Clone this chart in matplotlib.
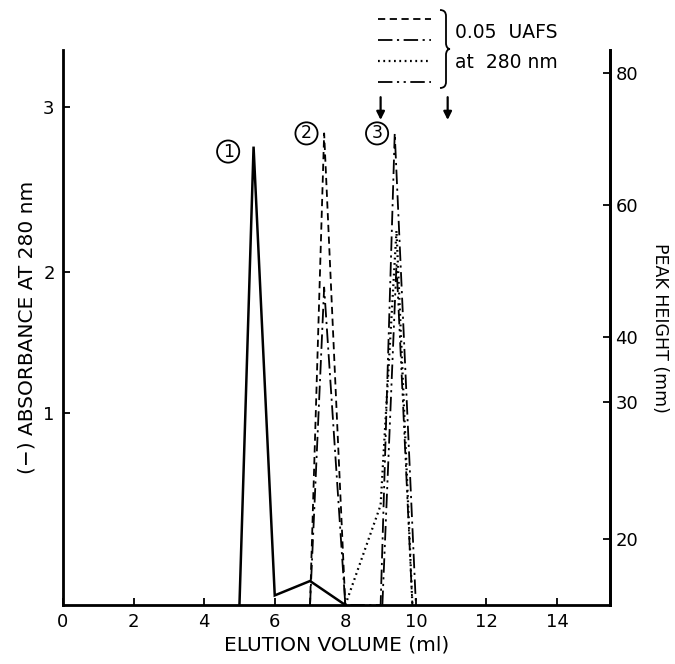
import numpy as np
import matplotlib
matplotlib.use("Agg")
import matplotlib.pyplot as plt
from matplotlib.lines import Line2D
from matplotlib.path import Path
from matplotlib.patches import PathPatch

# elution profiles, absorbance units
vol_solid = [5.0, 5.4, 6.0, 7.0, 8.0]
abs_solid = [0.0, 2.76, 0.05, 0.125, 0.0]
vol_dash = [7.0, 7.4, 8.0]
abs_dash = [0.0, 2.84, 0.0]
vol_dashdot = [7.0, 7.4, 8.0, 9.0, 9.4, 10.0]
abs_dashdot = [0.0, 1.89, 0.0, 0.0, 2.84, 0.0]
vol_dot = [8.0, 9.0, 9.45, 9.9]
abs_dot = [0.0, 0.52, 2.25, 0.0]
vol_dashdotdot = [9.05, 9.45, 9.9]
abs_dashdotdot = [0.0, 2.05, 0.0]

peak_labels = ['1', '2', '3']
peak_label_vol = [4.68, 6.9, 8.9]
peak_label_abs = [2.73, 2.84, 2.84]
arrow_vol = [9.0, 10.9]

x_ticks = [0, 2, 4, 6, 8, 10, 12, 14]
abs_ticks = [1, 2, 3]
height_ticks = [20, 30, 40, 60, 80]

# the hand drawn axes are not evenly spaced: piecewise scales (pixels above baseline)
abs_knots = [-1, 0, 1, 2, 3, 4]
abs_px = [-192, 0, 192, 333, 498, 663]
hgt_knots = [10, 20, 30, 40, 60, 80, 100]
hgt_px = [-71, 66, 203, 268, 400, 532, 664]
top_px = 555


def scale_funcs(knots, px):
    fwd = lambda v: np.interp(v, knots, px)
    inv = lambda p: np.interp(p, px, knots)
    return fwd, inv


plt.rcParams['font.family'] = 'DejaVu Sans'
fig = plt.figure(figsize=(6.75, 6.64), dpi=100)
ax = fig.add_axes([63/675, 59/664, 547/675, 555/664])

lw = 1.3
ax.plot(vol_solid, abs_solid, color='k', lw=1.8, solid_joinstyle='miter')
ax.plot(vol_dash, abs_dash, color='k', lw=lw, dashes=(4, 2.5))
ax.plot(vol_dashdot, abs_dashdot, color='k', lw=lw, dashes=(8, 2.5, 1.2, 2.5))
ax.plot(vol_dot, abs_dot, color='k', lw=1.6, dashes=(0.8, 1.6))
ax.plot(vol_dashdotdot, abs_dashdotdot, color='k', lw=lw,
        dashes=(8, 2.5, 1.2, 2.5, 1.2, 2.5))

f, i = scale_funcs(abs_knots, abs_px)
ax.set_yscale('function', functions=(f, i))
ax.set_ylim(0, i(top_px))
ax.set_xlim(0, 15.5)
ax.set_xticks(x_ticks)
ax.set_xticklabels([str(t) for t in x_ticks])
ax.set_yticks(abs_ticks)
ax.set_yticklabels([str(t) for t in abs_ticks])
ax.yaxis.set_minor_locator(plt.NullLocator())
ax.tick_params(direction='in', length=5, width=1.3, labelsize=13, pad=6)
ax.spines['top'].set_visible(False)
for s in ['left', 'bottom', 'right']:
    ax.spines[s].set_linewidth(2)
ax.set_xlabel('ELUTION VOLUME (ml)', fontsize=14.5, labelpad=3)
ax.set_ylabel('(\u2212) ABSORBANCE AT 280 nm', fontsize=14.5, labelpad=5)

ax2 = ax.twinx()
f2, i2 = scale_funcs(hgt_knots, hgt_px)
ax2.set_yscale('function', functions=(f2, i2))
ax2.set_ylim(i2(0), i2(top_px))
ax2.set_yticks(height_ticks)
ax2.set_yticklabels([str(t) for t in height_ticks])
ax2.yaxis.set_minor_locator(plt.NullLocator())
ax2.tick_params(direction='in', length=5, width=1.3, labelsize=13, pad=4)
ax2.spines['top'].set_visible(False)
ax2.spines['right'].set_linewidth(2)
ax2.set_ylabel('PEAK HEIGHT (mm)', fontsize=12.5, rotation=-90, labelpad=22)

for lab, xv, yv in zip(peak_labels, peak_label_vol, peak_label_abs):
    ax.text(xv, yv, lab, ha='center', va='center', fontsize=12.5,
            bbox=dict(boxstyle='circle,pad=0.12', fc='white', ec='k', lw=1.3))

for xv in arrow_vol:
    ax.annotate('', xy=(xv, 0.874), xytext=(xv, 0.915),
                xycoords=('data', 'axes fraction'),
                arrowprops=dict(arrowstyle='-|>', color='k', lw=1.6,
                                mutation_scale=12, shrinkA=0, shrinkB=0))

handles = [Line2D([], [], color='k', lw=lw, dashes=(4, 2.5)),
           Line2D([], [], color='k', lw=lw, dashes=(8, 2.5, 1.2, 2.5)),
           Line2D([], [], color='k', lw=1.6, dashes=(0.8, 1.6)),
           Line2D([], [], color='k', lw=lw, dashes=(8, 2.5, 1.2, 2.5, 1.2, 2.5))]
fig.legend(handles, [''] * 4, loc='upper left',
           bbox_to_anchor=(378/675, 1 - 12/664), frameon=False,
           handlelength=3.5, handletextpad=0, labelspacing=0.4,
           fontsize=11, borderpad=0, borderaxespad=0)

# curly brace next to the legend, in pixel coordinates
W, H = 675.0, 664.0
bx, top, bot = 440.0, 10.0, 88.0
mid = (top + bot) / 2
verts = [(bx, top), (bx + 6, top), (bx + 6, top + 6), (bx + 6, mid - 6),
         (bx + 6, mid - 2), (bx + 8, mid), (bx + 10, mid),
         (bx + 8, mid), (bx + 6, mid + 2), (bx + 6, mid + 6),
         (bx + 6, bot - 6), (bx + 6, bot), (bx, bot)]
codes = [Path.MOVETO, Path.CURVE3, Path.CURVE3, Path.LINETO,
         Path.CURVE4, Path.CURVE4, Path.CURVE4,
         Path.CURVE4, Path.CURVE4, Path.CURVE4,
         Path.LINETO, Path.CURVE3, Path.CURVE3]
verts = [(vx / W, 1 - vy / H) for vx, vy in verts]
fig.add_artist(PathPatch(Path(verts, codes), fc='none', ec='k', lw=1.3,
                         transform=fig.transFigure))
fig.text(455/W, 1 - 33/H, '0.05  UAFS', fontsize=13.5, va='center', ha='left')
fig.text(455/W, 1 - 62/H, 'at  280 nm', fontsize=13.5, va='center', ha='left')

fig.savefig('out.png', dpi=100)
